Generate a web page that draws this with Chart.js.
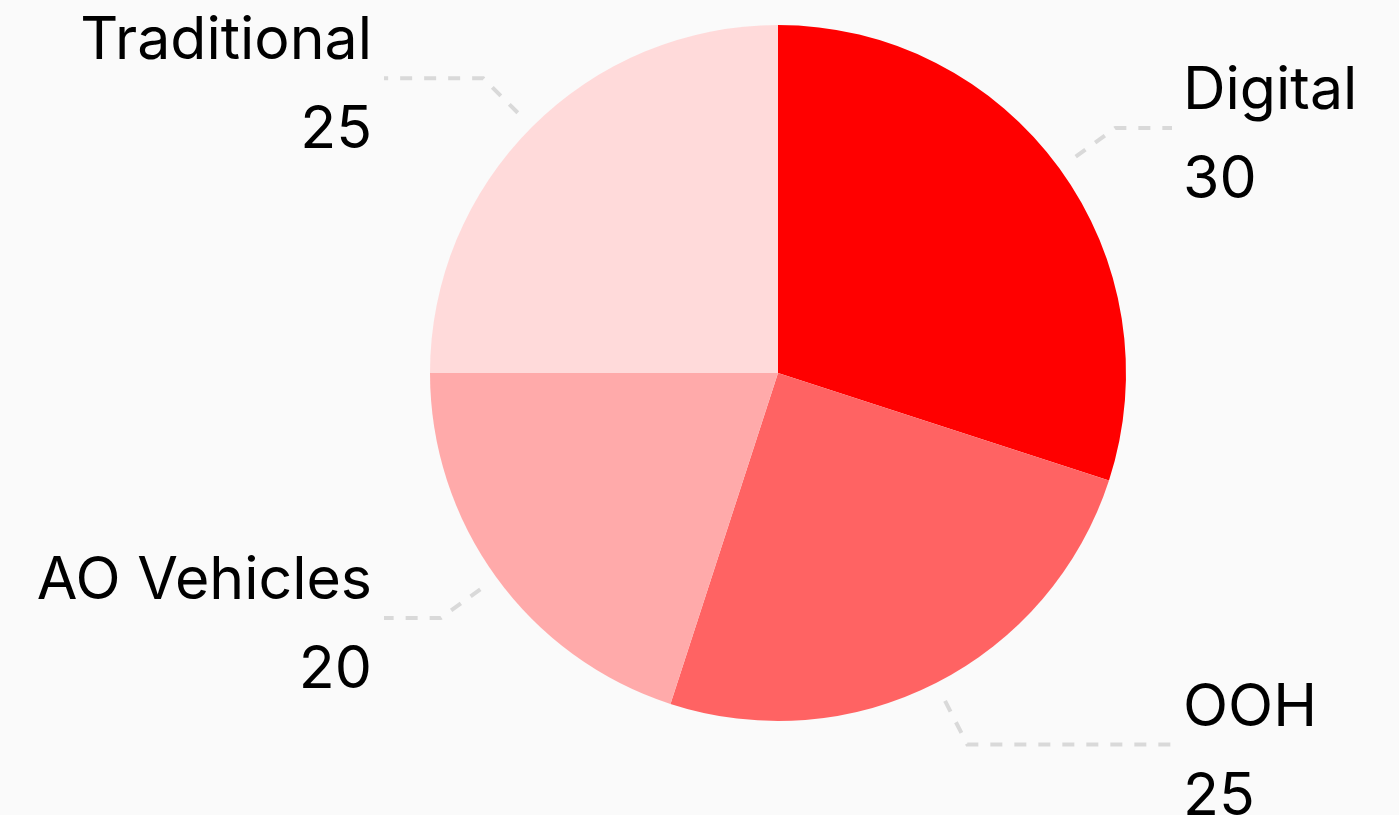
<!DOCTYPE html>
<html>
<head>
<meta charset="utf-8">
<script src="https://cdn.jsdelivr.net/npm/chart.js@4.4.1/dist/chart.umd.min.js"></script>
<style>
  html, body { margin: 0; padding: 0; background: #fafafa; }
  #wrap { width: 1399px; height: 815px; position: relative; }
</style>
</head>
<body>
<div id="wrap"><canvas id="c" width="1399" height="815"></canvas></div>
<script>
const categories = ["Digital", "OOH", "AO Vehicles", "Traditional"];
const values = [30, 25, 20, 25];
const sliceColors = ["#ff0000", "#ff6363", "#ffaaaa", "#ffdada"];

const FONT = '400 59px Inter, "Noto Sans", sans-serif';

const leaderLabels = {
  id: 'leaderLabels',
  afterDatasetsDraw(chart) {
    const ctx = chart.ctx;
    const meta = chart.getDatasetMeta(0);
    meta.data.forEach((arc, i) => {
      const p = arc.getProps(['x', 'y', 'startAngle', 'endAngle', 'outerRadius'], true);
      const mid = (p.startAngle + p.endAngle) / 2;
      const cos = Math.cos(mid), sin = Math.sin(mid);
      const r1 = p.outerRadius + 20, r2 = p.outerRadius + 69;
      const x1 = p.x + cos * r1, y1 = p.y + sin * r1;
      const x2 = p.x + cos * r2, y2 = p.y + sin * r2;
      const right = cos >= 0;
      const x3 = right ? p.x + p.outerRadius + 46 : p.x - p.outerRadius - 46;
      ctx.save();
      ctx.strokeStyle = '#d9d9d9';
      ctx.lineWidth = 4;
      ctx.setLineDash([12, 12]);
      ctx.beginPath();
      ctx.moveTo(x1, y1);
      ctx.lineTo(x2, y2);
      ctx.lineTo(x3, y2);
      ctx.stroke();
      ctx.setLineDash([]);
      ctx.fillStyle = '#000';
      ctx.font = FONT;
      ctx.textAlign = right ? 'left' : 'right';
      ctx.textBaseline = 'alphabetic';
      const tx = right ? x3 + 11 : x3 - 12;
      ctx.fillText(categories[i], tx, y2 - 19);
      ctx.fillText(String(values[i]), tx, y2 + 70);
      ctx.restore();
    });
  }
};

new Chart(document.getElementById('c'), {
  type: 'pie',
  data: {
    labels: categories,
    datasets: [{
      data: values,
      backgroundColor: sliceColors,
      borderWidth: 0,
      hoverOffset: 0
    }]
  },
  options: {
    responsive: false,
    animation: false,
    devicePixelRatio: 1,
    layout: { padding: { left: 430, right: 273, top: 25, bottom: 94 } },
    plugins: {
      legend: { display: false },
      tooltip: { enabled: false }
    }
  },
  plugins: [leaderLabels]
});
</script>
</body>
</html>
